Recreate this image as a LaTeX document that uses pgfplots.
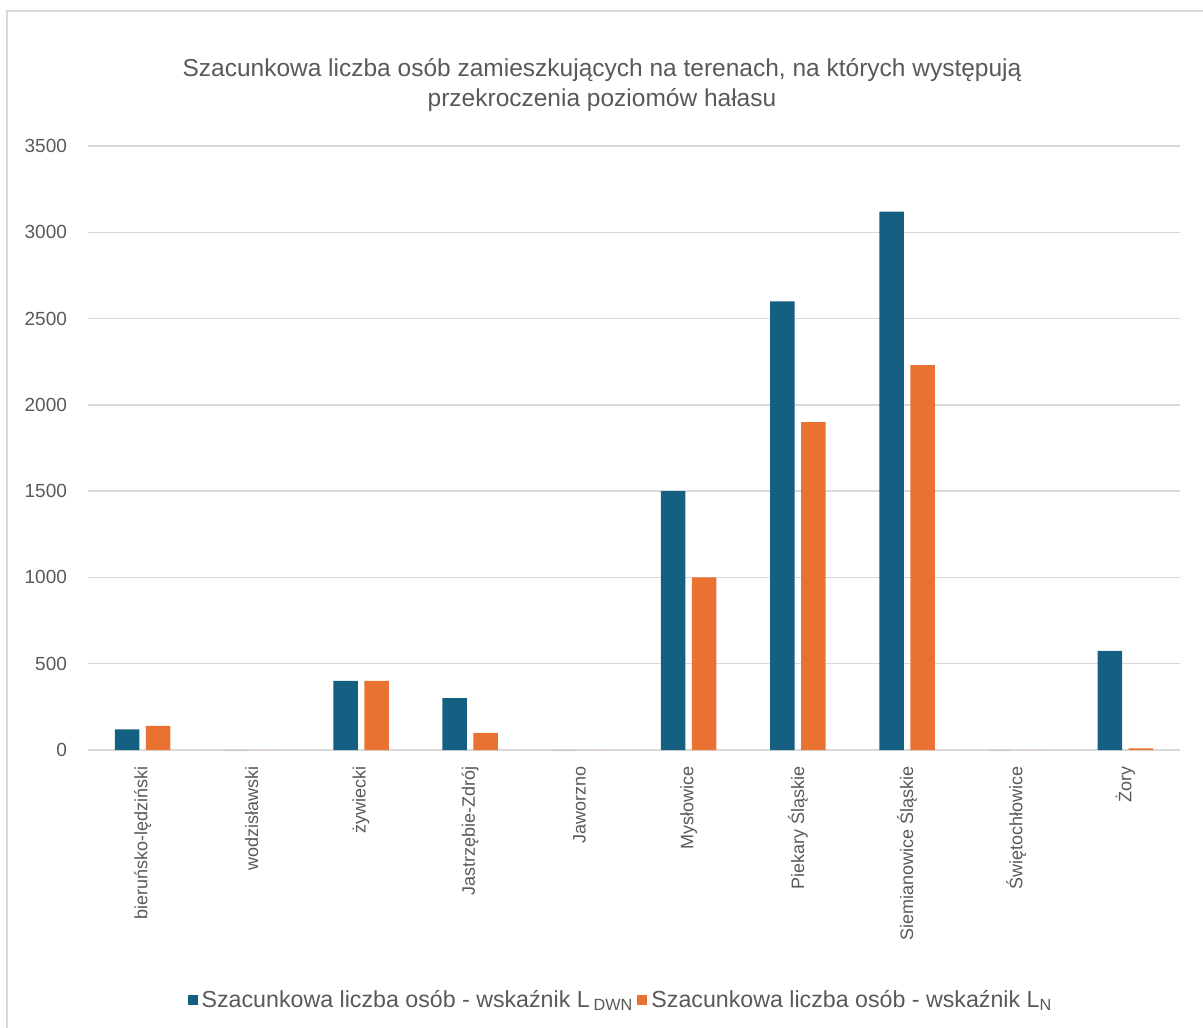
\documentclass[border=0pt]{standalone}
\usepackage{pgfplots}
\pgfplotsset{compat=1.18}
\usepackage{fontspec}
\setmainfont{Liberation Sans}
\definecolor{cblue}{HTML}{156082}
\definecolor{corange}{HTML}{E97132}
\definecolor{txt}{HTML}{595959}
\definecolor{gridc}{HTML}{D9D9D9}
\begin{document}
\begin{tikzpicture}[x=1pt,y=1pt]
\useasboundingbox (0,0) rectangle (601.5,-513.5);
\draw[gridc, line width=1pt] (3.5,-5.5) rectangle (620,-530);
\node[txt, font=\fontsize{12.25}{15}\selectfont, align=center] at (301,-42.5) {Szacunkowa liczba osób zamieszkujących na terenach, na których występują\\przekroczenia poziomów hałasu};
\begin{axis}[
  at={(44pt,-375pt)}, anchor=south west,
  scale only axis, width=546pt, height=302pt,
  ybar=3.25pt, bar width=12.25pt,
  xmin=-0.5, xmax=9.5, ymin=0, ymax=3500,
  ytick={0,500,...,3500},
  xtick={0,...,9},
  xticklabels={bieruńsko-lędziński,wodzisławski,żywiecki,Jastrzębie-Zdrój,Jaworzno,Mysłowice,Piekary Śląskie,Siemianowice Śląskie,Świętochłowice,Żory},
  x tick label style={rotate=90, anchor=east, font=\fontsize{9}{11}\selectfont, text=txt},
  xticklabel shift=4.5pt,
  y tick label style={font=\fontsize{9.5}{11}\selectfont, text=txt, xshift=-7pt},
  /pgf/number format/assume math mode=true,
  /pgf/number format/1000 sep={},
  major tick length=0pt,
  axis line style={draw=none},
  ymajorgrids, grid style={gridc, line width=0.75pt},
  legend style={at={(0.489,-0.414)}, anchor=center, draw=none, fill=none, legend columns=2, font=\fontsize{11.6}{14}\selectfont, text=txt, /tikz/every even column/.append style={column sep=0pt}},
  legend image code/.code={\fill[#1] (0pt,-2.5pt) rectangle (5pt,2.5pt);},
]
\addplot[fill=cblue, draw=none] coordinates {(0,120) (1,0) (2,400) (3,300) (4,0) (5,1500) (6,2600) (7,3120) (8,0) (9,575)};
\addlegendentry{Szacunkowa liczba osób - wskaźnik L\,\textsubscript{DWN}}
\addplot[fill=corange, draw=none] coordinates {(0,140) (1,0) (2,400) (3,100) (4,0) (5,1000) (6,1900) (7,2230) (8,0) (9,10)};
\addlegendentry{Szacunkowa liczba osób - wskaźnik L\textsubscript{N}}
\end{axis}
\end{tikzpicture}
\end{document}
